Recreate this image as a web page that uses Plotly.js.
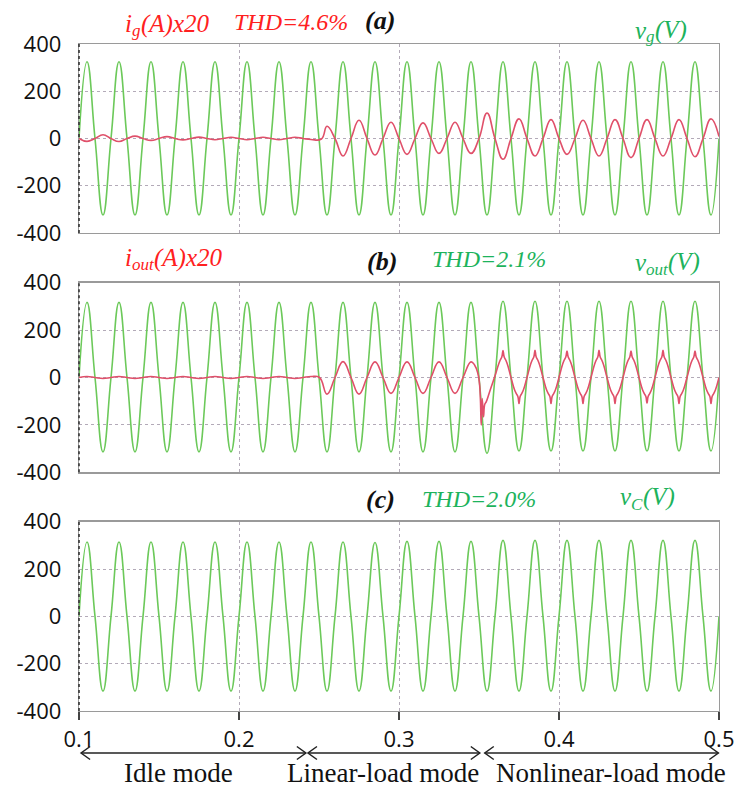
<!DOCTYPE html>
<html>
<head>
<meta charset="utf-8">
<script src="https://cdn.plot.ly/plotly-3.0.1.min.js"></script>
<style>
  html, body { margin: 0; padding: 0; background: #fff; }
  #chart { width: 740px; height: 789px; }
</style>
</head>
<body>
<div id="chart"></div>
<script>
// ---------- data ----------
// quarter-period instants (zero crossings / peaks of the 50 Hz voltages), seconds
const tGrid = [
  0.100,0.105,0.110,0.115,0.120,0.125,0.130,0.135,0.140,0.145,
  0.150,0.155,0.160,0.165,0.170,0.175,0.180,0.185,0.190,0.195,
  0.200,0.205,0.210,0.215,0.220,0.225,0.230,0.235,0.240,0.245,
  0.250,0.255,0.260,0.265,0.270,0.275,0.280,0.285,0.290,0.295,
  0.300,0.305,0.310,0.315,0.320,0.325,0.330,0.335,0.340,0.345,
  0.350,0.355,0.360,0.365,0.370,0.375,0.380,0.385,0.390,0.395,
  0.400,0.405,0.410,0.415,0.420,0.425,0.430,0.435,0.440,0.445,
  0.450,0.455,0.460,0.465,0.470,0.475,0.480,0.485,0.490,0.495,
  0.500
];
// (a) grid voltage v_g (V)
const vg = [
  0,325,0,-324,0,325,0,-324,0,325,
  0,-324,0,325,0,-324,0,325,0,-324,
  0,325,0,-324,0,325,0,-324,0,325,
  0,-324,0,325,0,-324,0,325,0,-324,
  0,325,0,-324,0,325,0,-324,0,325,
  0,-324,0,325,0,-324,0,325,0,-324,
  0,325,0,-324,0,325,0,-324,0,325,
  0,-324,0,325,0,-324,0,325,0,-324,
  0
];
// (b) output voltage v_out (V)
const vout = [
  0,317,0,-314,0,317,0,-314,0,317,
  0,-314,0,317,0,-314,0,317,0,-314,
  0,317,0,-314,0,317,0,-314,0,317,
  0,-314,0,317,0,-314,0,317,0,-314,
  0,317,0,-314,0,317,0,-314,0,317,
  0,-320,0,322,0,-310,0,322,0,-310,
  0,322,0,-310,0,322,0,-310,0,322,
  0,-310,0,322,0,-310,0,322,0,-310,
  0
];
// (c) capacitor voltage v_C (V)
const vc = [
  0,314,0,-316,0,314,0,-316,0,314,
  0,-316,0,314,0,-316,0,314,0,-316,
  0,314,0,-316,0,314,0,-316,0,314,
  0,-316,0,314,0,-316,0,312,0,-316,
  0,317,0,-316,0,317,0,-316,0,317,
  0,-316,0,321,0,-316,0,321,0,-316,
  0,321,0,-316,0,321,0,-316,0,321,
  0,-316,0,321,0,-316,0,321,0,-316,
  0
];
// (a) grid current i_g x20
const tIg = [
  0.100,0.105,0.110,0.115,0.120,0.125,0.130,0.135,0.140,0.145,
  0.150,0.155,0.160,0.165,0.170,0.175,0.180,0.185,0.190,0.195,
  0.200,0.205,0.210,0.215,0.220,0.225,0.230,0.235,0.240,0.245,
  0.2515,0.255,0.260,0.265,0.270,0.275,0.280,0.285,0.290,0.295,
  0.300,0.305,0.310,0.315,0.320,0.325,0.330,0.335,0.340,0.345,
  0.350,0.355,0.360,0.365,0.370,0.375,0.380,0.385,0.390,0.395,
  0.400,0.405,0.410,0.415,0.420,0.425,0.430,0.435,0.440,0.445,
  0.450,0.455,0.460,0.465,0.470,0.475,0.480,0.485,0.490,0.495,
  0.500
];
const ig = [
  0,-12,0,16,0,-13,0,10,0,-8,
  0,8,0,-6,0,6,0,-5,0,5,
  0,-5,0,5,0,-5,0,5,0,-4,
  -2,52,0,-74,0,77,0,-70,0,69,
  0,-67,0,66,0,-63,0,69,0,-63,
  0,108,0,-88,0,83,0,-74,0,80,
  0,-67,0,77,0,-74,0,80,0,-81,
  0,80,0,-74,0,80,0,-77,0,83,
  8
];
// (b) output current i_out x20
const tIout = [
  0.100,0.105,0.110,0.115,0.120,0.125,0.130,0.135,0.140,0.145,
  0.150,0.155,0.160,0.165,0.170,0.175,0.180,0.185,0.190,0.195,
  0.200,0.205,0.210,0.215,0.220,0.225,0.230,0.235,0.240,0.245,
  0.2503,0.255,0.260,0.265,0.270,0.275,0.280,0.285,0.290,0.295,
  0.300,0.305,0.310,0.315,0.320,0.325,0.330,0.335,0.340,0.345,
  0.3473,0.3493,0.3503,0.3509,0.3514,0.3520,0.3528,0.3536,0.3545,0.3566,0.3598,
  0.3622,0.3633,0.3643,0.3650,0.3657,0.3667,0.3678,0.3700,0.3722,0.3733,0.3743,0.3750,0.3757,0.3767,0.3778,0.3800,
  0.3822,0.3833,0.3843,0.3850,0.3857,0.3867,0.3878,0.3900,0.3922,0.3933,0.3943,0.3950,0.3957,0.3967,0.3978,0.4000,
  0.4022,0.4033,0.4043,0.4050,0.4057,0.4067,0.4078,0.4100,0.4122,0.4133,0.4143,0.4150,0.4157,0.4167,0.4178,0.4200,
  0.4222,0.4233,0.4243,0.4250,0.4257,0.4267,0.4278,0.4300,0.4322,0.4333,0.4343,0.4350,0.4357,0.4367,0.4378,0.4400,
  0.4422,0.4433,0.4443,0.4450,0.4457,0.4467,0.4478,0.4500,0.4522,0.4533,0.4543,0.4550,0.4557,0.4567,0.4578,0.4600,
  0.4622,0.4633,0.4643,0.4650,0.4657,0.4667,0.4678,0.4700,0.4722,0.4733,0.4743,0.4750,0.4757,0.4767,0.4778,0.4800,
  0.4822,0.4833,0.4843,0.4850,0.4857,0.4867,0.4878,0.4900,0.4922,0.4933,0.4943,0.4950,0.4957,0.4967,0.4978,0.5000
];
const iout = [
  0,4,0,-4,0,4,0,-4,0,4,
  0,-4,0,4,0,-4,0,4,0,-4,
  0,4,0,-4,0,4,0,-4,0,4,
  0,-70,0,67,0,-70,0,66,0,-67,
  0,66,0,-67,0,66,0,-67,0,66,
  52,17,-25,-96,-201,-89,-166,-113,-103,-61,3,
  55,74,88,114,88,74,55,0,-52,-68,-80,-110,-80,-68,-52,0,
  55,74,88,115,88,74,55,0,-52,-68,-80,-110,-80,-68,-52,0,
  55,74,88,112,88,74,55,0,-52,-68,-80,-110,-80,-68,-52,0,
  55,74,88,115,88,74,55,0,-52,-68,-80,-110,-80,-68,-52,0,
  55,74,88,112,88,74,55,0,-52,-68,-80,-108,-80,-68,-52,0,
  55,74,88,115,88,74,55,0,-52,-68,-80,-110,-80,-68,-52,0,
  55,74,88,112,88,74,55,0,-52,-68,-80,-110,-80,-68,-52,0
];
const xTickVals = [0.1, 0.2, 0.3, 0.4, 0.5];
const xTickText = ['0.1', '0.2', '0.3', '0.4', '0.5'];
const yTickVals = [-400, -200, 0, 200, 400];
const yTickText = ['-400', '-200', '0', '200', '400'];
const modeNames = ['Idle mode', 'Linear-load mode', 'Nonlinear-load mode'];
const modeStart = [0.1013, 0.2431, 0.3536];
const modeEnd   = [0.2418, 0.3505, 0.4996];

// ---------- styling ----------
const GREEN_LINE = '#6cc95a';
const RED_LINE = '#e0506a';
const GREEN_TEXT = '#1db35c';
const RED_TEXT = '#ff2020';
const SERIF = 'Liberation Serif, Times New Roman, serif';
const SANS = 'Open Sans, Noto Sans, sans-serif';

const ML = 79, MR = 21, MT = 44, MB = 78, W = 740, H = 789;
const PW = W - ML - MR, PH = H - MT - MB;
const xp = px => (px - ML) / PW;
const yp = py => (H - MB - py) / PH;
const tToPaper = t => (t - xTickVals[0]) / (xTickVals[xTickVals.length - 1] - xTickVals[0]);

function lineTrace(x, y, color, xa, ya) {
  return { x: x, y: y, xaxis: xa, yaxis: ya, type: 'scatter', mode: 'lines',
    line: { color: color, width: 1.6, shape: 'spline', smoothing: 1.3 },
    hoverinfo: 'skip', showlegend: false };
}

const data = [
  lineTrace(tGrid, vg, GREEN_LINE, 'x', 'y'),
  lineTrace(tIg, ig, RED_LINE, 'x', 'y'),
  lineTrace(tGrid, vout, GREEN_LINE, 'x2', 'y2'),
  lineTrace(tIout, iout, RED_LINE, 'x2', 'y2'),
  lineTrace(tGrid, vc, GREEN_LINE, 'x3', 'y3')
];

function xAxis(anchor, labels) {
  const ax = {
    anchor: anchor, domain: [0, 1], range: [0.1, 0.5],
    tickmode: 'array', tickvals: xTickVals, showticklabels: labels,
    ticks: labels ? 'outside' : '', ticklen: 8, tickcolor: '#444', tickwidth: 1.2,
    tickfont: { family: SANS, size: 22, color: '#111' },
    showgrid: true, gridcolor: '#b3aab8', griddash: 'dot', gridwidth: 1,
    zeroline: false, showline: true, mirror: true, linecolor: '#9a9a9a', linewidth: 1.3
  };
  if (labels) ax.ticktext = xTickText;
  return ax;
}
function yAxis(anchor, domain) {
  return {
    anchor: anchor, domain: domain, range: [-400, 400],
    tickmode: 'array', tickvals: yTickVals, ticktext: yTickText, ticks: '',
    ticklabelstandoff: 12,
    tickfont: { family: SANS, size: 22, color: '#111' },
    showgrid: true, gridcolor: '#b3aab8', griddash: 'dot', gridwidth: 1,
    zeroline: false, showline: true, mirror: true, linecolor: '#9a9a9a', linewidth: 1.3
  };
}

const domA = [yp(233), 1];
const domB = [yp(472.3), yp(282.7)];
const domC = [0, yp(521.7)];

function note(text, px, py, color, size, style, weight, anchor) {
  return { text: text, x: xp(px), y: yp(py), xref: 'paper', yref: 'paper',
    xanchor: anchor || 'left', yanchor: 'middle', showarrow: false,
    font: { family: SERIF, size: size, color: color, style: style, weight: weight } };
}
// a symbol with a subscript, drawn as plain text pieces (main, subscript, rest)
function subbed(main, sub, rest, px, py, color, mainW, subW) {
  return [
    note(main, px, py, color, 25, 'italic', 'normal'),
    note(sub, px + mainW, py + 7, color, 17, 'italic', 'normal'),
    note(rest, px + mainW + subW, py, color, 25, 'italic', 'normal')
  ];
}

const annotations = [].concat(
  subbed('i', 'g', '(A)x20', 123, 23.5, RED_TEXT, 7, 8.5),
  [note('THD=4.6%', 232, 22, RED_TEXT, 24, 'italic', 'normal'),
   note('(a)', 363, 21, '#111', 26, 'italic', 'bold')],
  subbed('v', 'g', '(V)', 633, 30, GREEN_TEXT, 11, 8.5),
  subbed('i', 'out', '(A)x20', 123, 257.5, RED_TEXT, 7, 22),
  [note('(b)', 365, 261, '#111', 26, 'italic', 'bold'),
   note('THD=2.1%', 430, 259, GREEN_TEXT, 24, 'italic', 'normal')],
  subbed('v', 'out', '(V)', 633, 262, GREEN_TEXT, 11, 22),
  [note('(c)', 364, 499, '#111', 26, 'italic', 'bold'),
   note('THD=2.0%', 420, 499, GREEN_TEXT, 24, 'italic', 'normal')],
  subbed('v', 'C', '(V)', 618, 497, GREEN_TEXT, 11, 12)
);
const modeLabelX = [178, 382.5, 611];
modeNames.forEach((name, i) => {
  annotations.push(note(name, modeLabelX[i], 773, '#111', 27, 'normal', 'normal', 'center'));
});

const arrowY = yp(753);
const shapes = [];
['y', 'y2', 'y3'].forEach(ya => {
  shapes.push({ type: 'line', xref: 'x domain', yref: ya + ' domain', x0: 0, x1: 0, y0: 0, y1: 1,
    line: { color: '#333', width: 1.6, dash: 'dot' }, layer: 'above' });
});
modeNames.forEach((name, i) => {
  const a = tToPaper(modeStart[i]), b = tToPaper(modeEnd[i]);
  shapes.push({ type: 'line', xref: 'paper', yref: 'paper', x0: a, x1: b, y0: arrowY, y1: arrowY,
    line: { color: '#222', width: 1.5 } });
  shapes.push({ type: 'path', xref: 'paper', yref: 'paper', xsizemode: 'pixel', ysizemode: 'pixel',
    xanchor: a, yanchor: arrowY, path: 'M 9 6.5 L 0 0 L 9 -6.5', line: { color: '#222', width: 1.5 } });
  shapes.push({ type: 'path', xref: 'paper', yref: 'paper', xsizemode: 'pixel', ysizemode: 'pixel',
    xanchor: b, yanchor: arrowY, path: 'M -9 6.5 L 0 0 L -9 -6.5', line: { color: '#222', width: 1.5 } });
});

const layout = {
  width: W, height: H,
  margin: { l: ML, r: MR, t: MT, b: MB, pad: 0 },
  paper_bgcolor: '#fff', plot_bgcolor: '#fff',
  showlegend: false,
  xaxis: xAxis('y', false),
  xaxis2: xAxis('y2', false),
  xaxis3: xAxis('y3', true),
  yaxis: yAxis('x', domA),
  yaxis2: yAxis('x2', domB),
  yaxis3: yAxis('x3', domC),
  annotations: annotations,
  shapes: shapes
};

Plotly.newPlot('chart', data, layout, { displayModeBar: false, staticPlot: true });
</script>
</body>
</html>
